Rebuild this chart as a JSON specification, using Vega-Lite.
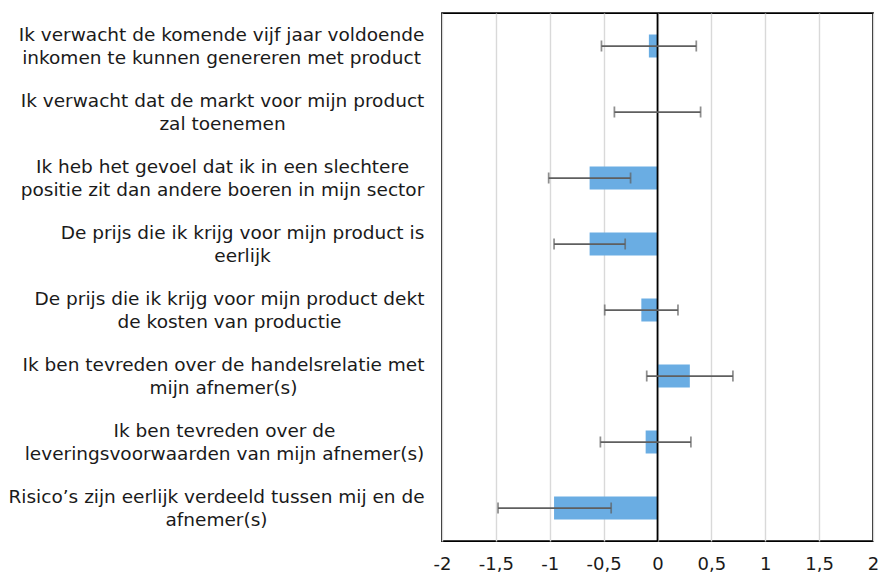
{
  "$schema": "https://vega.github.io/schema/vega-lite/v6.json",
  "autosize": "none",
  "padding": {"left": 442, "top": 13, "right": 8, "bottom": 33},
  "width": 431,
  "height": 528,
  "background": "white",
  "config": {
    "font": "DejaVu Sans",
    "view": {"stroke": "black", "strokeWidth": 1.75}
  },
  "data": {
    "values": [
      {"label": "Ik verwacht de komende vijf jaar voldoende\ninkomen te kunnen genereren met product", "mean": -0.08, "lo": -0.52, "hi": 0.36},
      {"label": "Ik verwacht dat de markt voor mijn product\nzal toenemen", "mean": 0.0, "lo": -0.40, "hi": 0.40},
      {"label": "Ik heb het gevoel dat ik in een slechtere\npositie zit dan andere boeren in mijn sector", "mean": -0.63, "lo": -1.01, "hi": -0.25},
      {"label": "De prijs die ik krijg voor mijn product is\neerlijk", "mean": -0.63, "lo": -0.96, "hi": -0.30},
      {"label": "De prijs die ik krijg voor mijn product dekt\nde kosten van productie", "mean": -0.15, "lo": -0.49, "hi": 0.19},
      {"label": "Ik ben tevreden over de handelsrelatie met\nmijn afnemer(s)", "mean": 0.30, "lo": -0.10, "hi": 0.70},
      {"label": "Ik ben tevreden over de\nleveringsvoorwaarden van mijn afnemer(s)", "mean": -0.11, "lo": -0.53, "hi": 0.31},
      {"label": "Risico’s zijn eerlijk verdeeld tussen mij en de\nafnemer(s)", "mean": -0.96, "lo": -1.48, "hi": -0.43}
    ]
  },
  "encoding": {
    "y": {
      "field": "label",
      "type": "nominal",
      "sort": null,
      "scale": {"paddingInner": 0, "paddingOuter": 0},
      "axis": {
        "title": null,
        "domain": false,
        "ticks": false,
        "tickSize": 0,
        "labelExpr": "split(datum.label, '\\n')",
        "labelFontSize": 18.5,
        "labelLineHeight": 23,
        "labelOffset": -11.5,
        "labelColor": "#1a1a1a",
        "labelLimit": 1000,
        "labelAlign": "center",
        "labelBaseline": "middle",
        "labelPadding": {
          "condition": [
            {"test": "indexof(datum.value, 'voldoende') >= 0", "value": 221},
            {"test": "indexof(datum.value, 'markt') >= 0", "value": 220},
            {"test": "indexof(datum.value, 'slechtere') >= 0", "value": 220},
            {"test": "indexof(datum.value, 'product is') >= 0", "value": 200},
            {"test": "indexof(datum.value, 'dekt') >= 0", "value": 213},
            {"test": "indexof(datum.value, 'handelsrelatie') >= 0", "value": 219},
            {"test": "indexof(datum.value, 'leveringsvoorwaarden') >= 0", "value": 218},
            {"test": "indexof(datum.value, 'Risico') >= 0", "value": 226}
          ],
          "value": 220
        }
      }
    }
  },
  "layer": [
    {
      "mark": {"type": "bar", "color": "#6aade3", "size": 23},
      "encoding": {
        "x": {
          "field": "mean",
          "type": "quantitative",
          "scale": {"domain": [-2, 2], "nice": false, "zero": false},
          "axis": {
            "title": null,
            "values": [-2, -1.5, -1, -0.5, 0, 0.5, 1, 1.5, 2],
            "labelExpr": "replace(toString(datum.value), '.', ',')",
            "labelFontSize": 18,
            "labelColor": "#1a1a1a",
            "labelPadding": 14,
            "labelFlush": false,
            "labelOverlap": false,
            "domain": false,
            "ticks": false,
            "tickSize": 0,
            "grid": true,
            "gridColor": "#d9d9d9",
            "gridWidth": 1.4
          }
        }
      }
    },
    {
      "data": {"values": [{"zero": 0}]},
      "mark": {"type": "rule", "color": "black", "strokeWidth": 1.75},
      "encoding": {"x": {"field": "zero", "type": "quantitative"}, "y": null}
    },
    {
      "mark": {"type": "rule", "color": "#5f5f5f", "strokeWidth": 1.75},
      "encoding": {
        "x": {"field": "lo", "type": "quantitative"},
        "x2": {"field": "hi"}
      }
    },
    {
      "mark": {"type": "tick", "color": "#5f5f5f", "thickness": 1.75, "size": 11},
      "encoding": {"x": {"field": "lo", "type": "quantitative"}}
    },
    {
      "mark": {"type": "tick", "color": "#5f5f5f", "thickness": 1.75, "size": 11},
      "encoding": {"x": {"field": "hi", "type": "quantitative"}}
    }
  ]
}
